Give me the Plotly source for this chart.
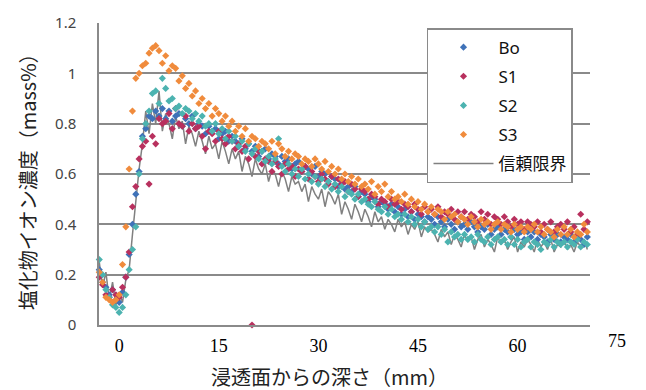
import numpy as np
import plotly.graph_objects as go

# Depth grid (mm from the infiltration surface), 0.5 mm pitch
depth = np.round(np.arange(-3.0, 70.51, 0.5), 2)

# Chloride ion concentration (mass%)
bo = [
    0.22, 0.17, 0.15, 0.12, 0.14, 0.10, 0.09, 0.13, 0.19, 0.28,
    0.40, 0.52, 0.61, 0.75, 0.78, 0.83, 0.82, 0.85, 0.83, 0.86,
    0.82, 0.85, 0.81, 0.83, 0.84, 0.79, 0.82, 0.80, 0.83, 0.78,
    0.80, 0.79, 0.76, 0.79, 0.77, 0.78, 0.74, 0.76, 0.77, 0.73,
    0.75, 0.73, 0.71, 0.74, 0.70, 0.72, 0.69, 0.71, 0.67, 0.69,
    0.70, 0.66, 0.68, 0.67, 0.64, 0.67, 0.65, 0.66, 0.62, 0.64,
    0.65, 0.61, 0.63, 0.62, 0.60, 0.63, 0.59, 0.61, 0.60, 0.57,
    0.59, 0.58, 0.55, 0.57, 0.54, 0.55, 0.53, 0.55, 0.51, 0.53,
    0.52, 0.49, 0.51, 0.50, 0.47, 0.49, 0.48, 0.46, 0.48, 0.45,
    0.47, 0.44, 0.46, 0.43, 0.45, 0.42, 0.44, 0.43, 0.41, 0.43,
    0.42, 0.40, 0.43, 0.41, 0.39, 0.42, 0.40, 0.38, 0.41, 0.39,
    0.40, 0.38, 0.41, 0.39, 0.37, 0.39, 0.38, 0.40, 0.36, 0.38,
    0.39, 0.36, 0.38, 0.37, 0.35, 0.38, 0.36, 0.37, 0.34, 0.37,
    0.35, 0.37, 0.34, 0.36, 0.35, 0.33, 0.36, 0.34, 0.36, 0.33,
    0.35, 0.34, 0.36, 0.33, 0.35, 0.34, 0.32, 0.35,
]
s1 = [
    0.19, 0.16, 0.12, 0.11, 0.14, 0.12, 0.11, 0.15, 0.19, 0.29,
    0.47, 0.55, 0.66, 0.71, 0.73, 0.56, 0.75, 0.72, 0.82, 0.80,
    0.81, 0.84, 0.78, 0.86, 0.80, 0.79, 0.83, 0.77, 0.80, 0.78,
    0.79, 0.75, 0.70, 0.77, 0.76, 0.73, 0.77, 0.74, 0.72, 0.75,
    0.73, 0.70, 0.72, 0.69, 0.71, 0.66, 0.00, 0.67, 0.69, 0.64,
    0.66, 0.65, 0.61, 0.65, 0.63, 0.60, 0.64, 0.62, 0.63, 0.59,
    0.62, 0.61, 0.63, 0.58, 0.61, 0.59, 0.57, 0.60, 0.58, 0.56,
    0.59, 0.55, 0.58, 0.56, 0.57, 0.53, 0.56, 0.54, 0.51, 0.54,
    0.53, 0.50, 0.52, 0.51, 0.48, 0.50, 0.49, 0.47, 0.50, 0.48,
    0.49, 0.46, 0.48, 0.47, 0.45, 0.48, 0.46, 0.44, 0.47, 0.45,
    0.46, 0.44, 0.47, 0.43, 0.45, 0.44, 0.46, 0.42, 0.45, 0.43,
    0.45, 0.42, 0.44, 0.43, 0.41, 0.45, 0.42, 0.44, 0.40, 0.43,
    0.42, 0.40, 0.43, 0.41, 0.39, 0.42, 0.40, 0.41, 0.38, 0.41,
    0.40, 0.39, 0.41, 0.37, 0.40, 0.38, 0.41, 0.37, 0.39, 0.40,
    0.38, 0.41, 0.37, 0.39, 0.36, 0.44, 0.38, 0.41,
]
s2 = [
    0.26, 0.20, 0.14, 0.11, 0.08, 0.07, 0.05, 0.07, 0.12, 0.22,
    0.30, 0.39, 0.60, 0.74, 0.80, 0.85, 0.92, 0.93, 0.88, 0.98,
    0.94, 0.89, 0.90, 0.86, 0.87, 0.84, 0.86, 0.85, 0.82, 0.84,
    0.81, 0.83, 0.79, 0.80, 0.77, 0.80, 0.76, 0.78, 0.74, 0.77,
    0.73, 0.75, 0.71, 0.73, 0.69, 0.72, 0.68, 0.70, 0.66, 0.69,
    0.65, 0.67, 0.64, 0.66, 0.74, 0.63, 0.61, 0.64, 0.60, 0.62,
    0.59, 0.62, 0.58, 0.60, 0.57, 0.59, 0.56, 0.58, 0.55, 0.57,
    0.54, 0.56, 0.53, 0.55, 0.51, 0.53, 0.52, 0.50, 0.52, 0.49,
    0.50, 0.48, 0.47, 0.49, 0.46, 0.45, 0.47, 0.44, 0.46, 0.43,
    0.44, 0.42, 0.44, 0.41, 0.43, 0.40, 0.42, 0.39, 0.41, 0.38,
    0.39, 0.37, 0.39, 0.36, 0.38, 0.33, 0.37, 0.35, 0.36, 0.34,
    0.36, 0.34, 0.35, 0.33, 0.36, 0.34, 0.33, 0.35, 0.32, 0.34,
    0.35, 0.33, 0.34, 0.32, 0.35, 0.32, 0.34, 0.31, 0.33, 0.34,
    0.31, 0.33, 0.32, 0.30, 0.33, 0.32, 0.34, 0.31, 0.33, 0.32,
    0.33, 0.31, 0.33, 0.32, 0.34, 0.31, 0.33, 0.32,
]
s3 = [
    0.21, 0.17, 0.11, 0.10, 0.09, 0.10, 0.12, 0.24, 0.39, 0.62,
    0.85, 0.98, 1.00, 1.03, 1.04, 1.08, 1.10, 1.11, 1.09, 1.04,
    1.07, 1.01, 1.03, 1.02, 0.97, 0.99, 0.94, 0.96, 0.91, 0.93,
    0.88, 0.90, 0.86, 0.88, 0.83, 0.86, 0.84, 0.81, 0.83, 0.79,
    0.81, 0.77, 0.79, 0.75, 0.78, 0.73, 0.75, 0.74, 0.71, 0.73,
    0.72, 0.70, 0.73, 0.68, 0.72, 0.70, 0.67, 0.69, 0.66, 0.68,
    0.67, 0.64, 0.66, 0.65, 0.63, 0.66, 0.64, 0.62, 0.65, 0.61,
    0.63, 0.60, 0.62, 0.58, 0.60, 0.57, 0.59, 0.56, 0.58, 0.55,
    0.56, 0.54, 0.57, 0.52, 0.55, 0.53, 0.56, 0.51, 0.53, 0.50,
    0.51, 0.49, 0.52, 0.48, 0.50, 0.47, 0.49, 0.46, 0.48, 0.45,
    0.47, 0.44, 0.46, 0.45, 0.42, 0.45, 0.43, 0.44, 0.41, 0.43,
    0.42, 0.40, 0.43, 0.41, 0.39, 0.42, 0.40, 0.41, 0.38, 0.40,
    0.41, 0.38, 0.40, 0.39, 0.37, 0.40, 0.38, 0.39, 0.37, 0.39,
    0.38, 0.40, 0.37, 0.39, 0.36, 0.38, 0.37, 0.35, 0.38, 0.36,
    0.39, 0.36, 0.38, 0.35, 0.37, 0.36, 0.40, 0.37,
]
# Confidence limit
limit = [
    0.25, 0.15, 0.21, 0.10, 0.17, 0.08, 0.13, 0.09, 0.18, 0.22,
    0.36, 0.50, 0.62, 0.72, 0.85, 0.76, 0.88, 0.80, 0.93, 0.77,
    0.84, 0.80, 0.74, 0.83, 0.78, 0.81, 0.72, 0.79, 0.76, 0.71,
    0.77, 0.73, 0.68, 0.75, 0.70, 0.72, 0.66, 0.73, 0.69, 0.64,
    0.70, 0.66, 0.69, 0.61, 0.67, 0.64, 0.59, 0.66, 0.62, 0.60,
    0.64, 0.57, 0.62, 0.60, 0.55, 0.61, 0.58, 0.53, 0.59, 0.56,
    0.57, 0.53, 0.56, 0.49, 0.55, 0.52, 0.50, 0.54, 0.47, 0.53,
    0.51, 0.48, 0.52, 0.44, 0.49, 0.46, 0.42, 0.48, 0.45, 0.41,
    0.46, 0.43, 0.39, 0.45, 0.41, 0.43, 0.38, 0.42, 0.40, 0.37,
    0.42, 0.39, 0.41, 0.36, 0.40, 0.38, 0.41, 0.35, 0.39, 0.37,
    0.38, 0.36, 0.33, 0.38, 0.35, 0.37, 0.32, 0.36, 0.34, 0.31,
    0.36, 0.33, 0.35, 0.30, 0.34, 0.36, 0.31, 0.34, 0.32, 0.29,
    0.35, 0.32, 0.34, 0.30, 0.33, 0.35, 0.29, 0.33, 0.31, 0.34,
    0.32, 0.29, 0.34, 0.31, 0.33, 0.30, 0.34, 0.29, 0.32, 0.31,
    0.34, 0.30, 0.32, 0.29, 0.33, 0.31, 0.34, 0.30,
]

x_ticks = [0, 15, 30, 45, 60, 75]
y_ticks = [0, 0.2, 0.4, 0.6, 0.8, 1.0, 1.2]
y_ticktext = ["0", "0.2", "0.4", "0.6", "0.8", "1", "1.2"]

X_MIN, X_MAX = -3.04, 70.9
Y_MIN, Y_MAX = 0.0, 1.2

series = [
    ("Bo", bo, "#3F72B8"),
    ("S1", s1, "#B8305E"),
    ("S2", s2, "#4CB3B0"),
    ("S3", s3, "#F08B3C"),
]

GRID = "#8A8A8A"

fig = go.Figure()

fig.add_trace(go.Scatter(
    x=depth, y=limit, mode="lines", name="信頼限界",
    line=dict(color="#808080", width=1.5),
    legendgroup="lim", legendrank=5, cliponaxis=False,
))
for i, (name, vals, color) in enumerate(series):
    fig.add_trace(go.Scatter(
        x=depth, y=vals, mode="markers", name=name,
        marker=dict(symbol="diamond", size=5.5, color=color, line=dict(width=0)),
        legendgroup=name, legendrank=i + 1, cliponaxis=False,
    ))

# the 75 label sits past the right end of the axis
x75 = (x_ticks[-1] - X_MIN) / (X_MAX - X_MIN)

fig.update_layout(
    width=646, height=390,
    margin=dict(l=99, r=56, t=23, b=65),
    paper_bgcolor="white", plot_bgcolor="white",
    showlegend=True,
    legend=dict(
        x=0.668, y=0.983, xanchor="left", yanchor="top",
        bgcolor="white", bordercolor=GRID, borderwidth=1.5,
        font=dict(family="Noto Sans, Noto Sans CJK JP", size=17, color="#111"),
        tracegroupgap=4, itemwidth=60,
    ),
    xaxis=dict(
        range=[X_MIN, X_MAX], showgrid=False, zeroline=False,
        showline=True, linecolor=GRID, linewidth=1.5,
        tickvals=x_ticks[:-1], ticks="",
        tickfont=dict(family="Liberation Serif", size=18, color="#000"),
        ticklabelstandoff=4,
    ),
    yaxis=dict(
        range=[Y_MIN, Y_MAX], showgrid=True, gridcolor=GRID, gridwidth=1.5,
        zeroline=False, showline=True, linecolor=GRID, linewidth=1.5,
        tickvals=y_ticks, ticktext=y_ticktext, ticks="",
        tickfont=dict(family="Noto Sans", size=15, color="#444"),
        ticklabelstandoff=18,
    ),
    annotations=[
        dict(text=str(x_ticks[-1]), xref="paper", yref="paper", x=x75, y=0,
             yshift=-16, xanchor="center", yanchor="middle", showarrow=False,
             font=dict(family="Liberation Serif", size=18, color="#000")),
        dict(text="浸透面からの深さ（mm）", xref="paper", yref="paper",
             x=0.47, y=-0.172, xanchor="center", yanchor="middle", showarrow=False,
             font=dict(family="Noto Sans CJK JP", size=20, color="#222")),
        dict(text="塩化物イオン濃度（mass%）", xref="paper", yref="paper",
             x=-0.146, y=0.49, xanchor="center", yanchor="middle", showarrow=False,
             textangle=-90,
             font=dict(family="Noto Sans CJK JP", size=20, color="#222")),
    ],
)

fig.write_html("out.html")
